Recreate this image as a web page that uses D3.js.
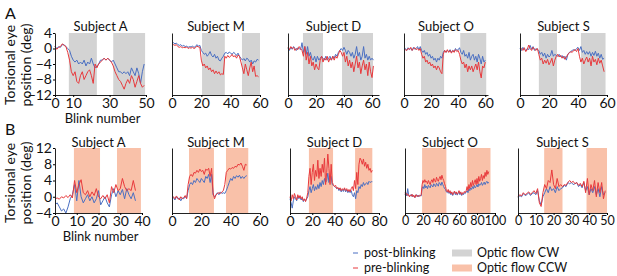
<!DOCTYPE html>
<html>
<head>
<meta charset="utf-8">
<script src="https://cdn.jsdelivr.net/npm/d3@7"></script>
<style>
  body { margin: 0; background: #fff; }
  text { font-family: Lato, "Open Sans", sans-serif; fill: #111; }
</style>
</head>
<body>
<div id="chart"></div>
<script>
// ---- data ----
const subjects = ["A", "M", "D", "O", "S"];

// row A : optic flow CW (torsional eye position, deg, per blink)
const cwPostA = [0.5,0,0.5,0.3,1,1,0.5,0,-0.5,-2,-3,-3.5,-3,-4,-3.5,-4,-3,-4.5,-3.5,-4,-2.5,-4,-5,-4.5,-4,-3,-3,-2.5,-3,-2.5,-3,-3.5,-3,-4,-5,-6,-6,-6.5,-6,-6.5,-6,-7,-5,-6,-7,-5,-6.5,-9,-6,-4];
const cwPreA  = [0.5,-0.2,0.3,0.5,1.2,0.8,0.5,-1,-3,-6,-7,-6,-8.5,-9,-7,-6,-8,-7,-6,-5.5,-7,-9,-4,-5,-4,-3.5,-3,-2.5,-3,-2.5,-3,-3.5,-4.5,-6,-7,-8,-8.5,-9.5,-10.5,-9,-8,-9,-7,-8,-10,-8.5,-7,-9,-10,-9.5];
const cwPostM = [1.8,1.5,1.2,1.4,1,0.8,1,0.6,0.8,0.5,0.6,0.3,0.5,0.4,0.6,0.3,0.5,1,0.6,0.8,-0.5,-1,-1.5,-1.2,-2,-1.5,-0.8,-1.8,-2.2,-1.5,-2.5,-2,-3,-3.2,-2.5,-2,-1.2,-1,-1.4,-0.9,-1.2,-1.5,-1,-1.3,-1.8,-1.2,-2,-2.5,-3,-2.6,-3.2,-2.5,-2.8,-3.5,-3,-4,-3.2,-3.5,-2.8,-3];
const cwPreM  = [1.2,1,0.8,1,0.5,0.3,0.5,0.2,0.3,0.2,0.4,0,0.2,0.1,0.3,0,0.2,0.6,0.4,0.3,-3,-4.5,-4,-5,-4.5,-5.5,-5,-6,-5.5,-6.5,-5.8,-6.5,-6,-6.8,-6.5,-6.7,-2,-2.5,-1.8,-2.3,-2,-1.5,-2.2,-1.8,-2.5,-1.7,-2,-3.5,-5,-6.5,-4,-5.5,-7,-5,-3.5,-6,-4.5,-7.2,-7,-7.3];
const cwPostD = [0,-0.5,0.3,-0.2,0.5,0,-0.5,0.2,0,-0.3,1.5,-1,0.5,-1.5,0.5,-2,-1,-2.5,-3,-2,-3.5,-2,-3,-2.5,-2,-2.5,-3,-2,-3,-2.5,-2,-3,-2,-2.5,-1.5,-2,-1,-0.5,0,-0.5,0.3,-0.5,-1.5,-0.5,-1,-2,-1,-2.5,-1.5,0.5,-2,-1,-3,-2,0.5,-2.5,-1.5,-3,-2,-3,-2.5,-3];
const cwPreD  = [0.3,-0.3,0.5,0,0.3,-0.5,0,-0.3,0.5,0,-0.5,-2,0.5,-3,-1,-4,-2,-4.5,-3.5,-5.5,-4,-5,-5.5,-3,-2,-3.5,-2.5,-3,-2,-3.5,-2.5,-3,-2,-3,-2,-2.5,-1.5,-0.5,-1,-2,-1,-3.5,-2,-4.5,-3,-5,-3.5,-6,-4,-2,-5,-3.5,-6.5,-4.5,-3,-5.5,-4,-7,-3.5,-6,-7.5,-4.5];
const cwPostO = [-0.2,0,-0.5,0.2,-0.3,0,-0.5,0.3,-0.2,0,0.5,-0.3,0.5,-0.5,-1,-0.5,-1.5,-1,-2,-1.5,-2.5,-2,-3,-2.5,-3.5,-2.5,-3,-2,-2.5,-1,-0.5,-1,-0.5,-0.8,-0.3,-1,-0.5,-0.8,0,-0.5,-0.3,0.2,-1,-1.5,-0.5,-2,-1.5,-2.5,-1,-3,-2,-1.5,-3,-2,-3.5,-1.5,-2.5,-4,-2,-3.5,-3];
const cwPreO  = [0,-0.3,-0.5,0,-0.2,0.3,-0.5,0,0.2,-0.3,0,-0.5,0,-1.5,-2.5,-2,-3.5,-3,-4,-3.5,-4.5,-4,-5,-4.5,-5.5,-4.5,-5,-6,-6.5,-1.5,-0.5,-1,-0.3,-1,-0.5,-1.2,-0.5,-1,-0.3,-0.8,-0.5,-1.5,-3,-4,-3.5,-5,-4,-6,-4.5,-5.5,-4.5,-6,-5,-4,-5.5,-3.5,-6,-7.6,-4.5,-5,-3.5];
const cwPostS = [0,-0.5,0.3,-0.3,-0.6,0,-0.3,0.8,-0.2,0.5,-0.5,0,-0.3,-0.5,-1.5,-1,-2,-1.2,-2.5,-1.5,-2.2,-1.8,-0.5,-2,-1.5,-1.8,-2,-1.5,-2.2,-1.8,-2.5,-2,-3,-1.5,-1,-0.8,-0.5,-0.3,-0.5,0,0.3,-0.5,0.5,-1,-0.5,-1.5,-0.8,-1.5,-0.8,-2,-1,-1.8,-0.7,-2,-1.2,-2.5,-1.5,-2.8,-2.5];
const cwPreS  = [-0.3,0,-0.5,0.2,-0.8,-0.3,0.9,0,-0.5,0.3,-0.2,-0.5,0,-1.5,-3,-2.5,-4,-3,-3.8,-2.8,-4.2,-3.5,-2.5,-4.5,-3,-2,-1.5,-2.2,-1.8,-2.5,-2,-2.8,-2.2,-1.5,-1.2,-0.8,-1,-0.5,-0.3,-0.8,0,-2,-3.5,-2.5,-4,-3,-2.2,-3.5,-2.5,-4.5,-2,-3.5,-2.8,-4.2,-2.5,-3.8,-3,-4.5,-6];

// row B : optic flow CCW
const ccwPostA = [-2,-1.5,-2.5,-3.5,-3,-4,-2.5,-0.5,0.5,3,-1,4,0,-1.5,-0.5,0.5,-1,0,-1.5,-0.5,1.5,-2,-1,0,-1.5,-2.5,0.5,2,0,1.5,0.5,1.8,-0.5,2,0.5,-0.5,1,-1];
const ccwPreA  = [-0.5,-0.3,-0.6,0,-0.3,0.3,-0.2,0.5,-0.3,4,1,3,4.2,1,0.5,1.5,0,1.2,0.3,2,0,-0.5,0.3,-0.5,0.5,-1.5,2.5,1,3,1.5,2,4.5,2.5,1.5,2,1.5,4,1.5];
const ccwPostM = [-0.5,-0.2,-0.8,0,-0.5,-0.3,-1,-0.3,-0.5,0,-0.3,1.5,3,3.5,3,4,3.5,4.5,4,3.5,4.5,4,3.5,5,4.5,5.5,3.5,5.5,0.5,0,0.5,1,0.5,1.2,0.8,1,0.8,1.5,2.5,3.5,4.5,4,5,4.5,5.2,4.8,5.3,4.5,5,4.5,5,5.2];
const ccwPreM  = [-0.3,0,-0.5,0.2,-0.3,-0.8,0,-0.5,-0.2,0.3,-0.5,3,5,5.5,5,6,5.8,6.5,6,6.8,6.2,6.5,5.5,6.8,6.5,7,5,7,1,-0.5,0.5,0.8,1,0.8,1.2,1.5,3,6,6.5,7,6.8,7.2,7,7.5,7.3,8,7.8,8.3,7.5,6.5,8,7.8];
const ccwPostD = [-0.5,-1.5,-2.8,-1,0,-0.5,-1,0.2,-0.5,0,-0.8,-0.3,-1.2,-0.6,-1,-0.5,0,1.5,2.5,1,2,3,1.5,2.5,1.8,3,2,3.5,2.5,4,3,4.5,3.5,4,5.8,3.5,4.5,5,3,2.8,2.5,2.3,2,2.2,1.5,2,1.2,1.8,1.3,2,1.2,1.7,1,1.5,1,1.5,0.5,0,1,-0.5,1.5,1,2.5,2,3,2.5,3.5,2.8,3.2,3.5,3,3.8,3.5,3.7,3.7];
const ccwPreD  = [0,-1,0.5,-0.5,0.8,0,-0.8,0.5,-0.3,0.3,-0.5,0,-1,-0.5,-1.2,-0.3,1,5,7,3,6,8,4,6.5,5,9,4.5,7,5,8,6,9.5,3,6,10.5,7,3,8,3.5,3,2.5,2.8,2,2.3,1.8,2.2,1.5,2,1.6,2.2,1.5,2,1.3,1.8,1.2,2,2.5,1.5,4,2,6,3,8,9.5,9,8,9.3,7.5,8.5,7,8,6.5,7,6,6.5];
const ccwPostO = [0.5,1,0.2,2,0.5,0,0.3,0.6,0,0.4,0.2,-0.2,0.3,0.5,0,0.4,0.1,0.3,0.2,2,2.5,2,3,2.2,2.6,2,2.8,2.5,2.2,3,2.7,2.4,3.2,2.8,2.5,3.3,3,2.6,3.5,3.2,2.8,3.6,3,2.5,2,1.8,1.2,1,1.5,0.8,1.2,0.5,1,0.3,0.8,1.2,0.5,1,0.4,0.8,1.2,0.5,1,0.3,0.8,0.5,1,0.8,1.2,1.5,1,2,1.5,2.2,1.8,2.5,2,2.8,2.2,2.5,3,2.4,3.2,2.8,3,3.5,2.8,3.2,3.6,3,3.5,3.8,3.3,3.6];
const ccwPreO  = [1,0.5,0.8,0.3,0.5,0,0.4,0.2,0.6,0,0.3,-0.2,0.5,0.1,0.3,0,0.4,0.2,0.5,3,4,3.5,4.2,3.6,3.8,3.2,4,3.5,3,3.8,4.2,3.5,4.5,4,3.6,4.8,4.2,3.8,4.5,5,4.2,5.3,4.5,4,3.2,2.5,1.5,1.2,1.8,1,1.5,0.8,1.2,0.5,1,1.4,0.8,1.2,0.6,1,1.5,0.8,1.2,0.5,1,0.8,1.3,1,1.5,2.5,1.5,3,2,3.5,2.5,4,2.8,3.5,4.2,3,4.5,3.2,5,3.8,4.5,5.5,4,5.2,4.5,6,5,6.5,5.5,6.2];
const ccwPostS = [-0.3,0.3,0,0.8,0.3,0.5,1,0.3,0.8,1,0.5,1.5,-1,-2,0,1,2,1,2.5,1.5,2,1,2.5,1.5,2,2.2,2.8,2.5,3.5,3.2,3.5,3,3.2,3.5,2.5,3,2.2,3.5,1.5,2.5,0.5,2,1,2.5,0.5,2,0,2.5,0.5,1];
const ccwPreS  = [0,0.5,0.2,1,0.5,0.8,1.2,0.6,1,1.5,0.8,2,-1.5,-2.4,1,3,2,4,3.5,6.6,3,2,4.5,2.5,3,2.5,3,2.8,3.5,4,3.5,3.8,3.2,3.5,2.8,3.3,2.5,3.8,1,4.5,0.5,3,1.5,4,0,3.5,1,3.5,-0.5,1.5];

// stimulus blocks (blink number start, end)
const cwBlocks  = [[[7.6,23],[32,49.5]], [[20.5,36],[47.7,60]], [[10.7,25],[38.6,60.7]], [[12.6,29.6],[41.5,60.7]], [[13,25.5],[42,59]]];
const ccwBlocks = [[[8.7,20.7],[28.5,39.5]], [[11.6,28.6],[36.8,52]], [[17,38.7],[58.5,74]], [[19,46],[69,95]], [[14.7,25],[38.5,50]]];

// axis extents and tick labels
const cwXMax  = [50, 60, 65, 62, 60];
const ccwXMax = [40, 60, 80, 100, 50];
const cwXTicks  = [[0,10,30,50], [0,20,40,60], [0,20,40,60], [0,20,40,60], [0,20,40,60]];
const ccwXTicks = [[0,10,20,30,40], [0,20,40,60], [0,20,40,60,80], [0,20,40,60,80,100], [0,10,20,30,40,50]];
const cwYTicks  = [4, 0, -4, -8, -12];
const ccwYTicks = [12, 8, 4, 0, -4];

// ---- layout ----
const W = 617, H = 276;
const colBlue = "#4a6fc2", colRed = "#e8393c";
const colCW = "#d3d3d3", colCCW = "#f9c1a9";

const svg = d3.select("#chart").append("svg")
    .attr("width", W)
    .attr("height", H);

const rows = [
    { letter: "A", letterY: 19, yDomain: [-12, 4], yRange: [95, 33], titleY: 31, labelY: 65,
      xRanges: [[55,146],[172,260],[288,379],[404,488],[520,607]],
      post: [cwPostA, cwPostM, cwPostD, cwPostO, cwPostS],
      pre: [cwPreA, cwPreM, cwPreD, cwPreO, cwPreS],
      blocks: cwBlocks, xMax: cwXMax, xTicks: cwXTicks, yTicks: cwYTicks, fill: colCW },
    { letter: "B", letterY: 135, yDomain: [-4, 12], yRange: [213, 148], titleY: 147, labelY: 183,
      xRanges: [[55,142],[172,260],[290,379],[405,495],[518,607]],
      post: [ccwPostA, ccwPostM, ccwPostD, ccwPostO, ccwPostS],
      pre: [ccwPreA, ccwPreM, ccwPreD, ccwPreO, ccwPreS],
      blocks: ccwBlocks, xMax: ccwXMax, xTicks: ccwXTicks, yTicks: ccwYTicks, fill: colCCW }
];

rows.forEach(row => {
    const y = d3.scaleLinear().domain(row.yDomain).range(row.yRange);

    // panel letter
    svg.append("text")
        .attr("x", 5).attr("y", row.letterY)
        .attr("font-size", 16)
        .text(row.letter);

    // y axis title (two lines, rotated)
    const yl = svg.append("text")
        .attr("transform", `translate(15,${row.labelY}) rotate(-90)`)
        .attr("text-anchor", "middle")
        .attr("font-size", 14);
    yl.append("tspan").attr("x", 0).attr("dy", 0).text("Torsional eye");
    yl.append("tspan").attr("x", 0).attr("dy", 16).text("position (deg)");

    subjects.forEach((s, i) => {
        const x = d3.scaleLinear().domain([0, row.xMax[i]]).range(row.xRanges[i]);
        const g = svg.append("g");

        // stimulus shading
        g.selectAll("rect.blk")
            .data(row.blocks[i])
            .join("rect")
            .attr("class", "blk")
            .attr("x", d => x(d[0]))
            .attr("width", d => x(d[1]) - x(d[0]))
            .attr("y", y.range()[1])
            .attr("height", y.range()[0] - y.range()[1])
            .attr("fill", row.fill);

        const line = d3.line()
            .x((d, k) => x(k))
            .y(d => y(d));

        g.append("path").datum(row.post[i])
            .attr("d", line).attr("fill", "none")
            .attr("stroke", colBlue).attr("stroke-width", 1);
        g.append("path").datum(row.pre[i])
            .attr("d", line).attr("fill", "none")
            .attr("stroke", colRed).attr("stroke-width", 1);

        // axes
        const tickFont = row.xTicks[i].length > 5 ? 12.5 : 14;  // crowded 0..100 axis
        const xAxis = d3.axisBottom(x).tickValues(row.xTicks[i])
            .tickSizeInner(2).tickSizeOuter(0).tickPadding(1);
        const gx = g.append("g")
            .attr("transform", `translate(0,${y.range()[0]})`)
            .call(xAxis);
        gx.selectAll("text").attr("font-size", tickFont).attr("font-family", "Lato, sans-serif");

        const yAxis = d3.axisLeft(y).tickValues(row.yTicks)
            .tickSizeInner(2).tickSizeOuter(0).tickPadding(1)
            .tickFormat(i === 0 ? d3.format("d") : () => "");
        const gy = g.append("g")
            .attr("transform", `translate(${x.range()[0]},0)`)
            .call(yAxis);
        gy.selectAll("text").attr("font-size", 14).attr("font-family", "Lato, sans-serif");
        if (i !== 0) gy.selectAll(".tick line").remove();

        g.selectAll(".domain").attr("stroke", "#222");

        // title
        g.append("text")
            .attr("x", (x.range()[0] + x.range()[1]) / 2)
            .attr("y", row.titleY)
            .attr("text-anchor", "middle")
            .attr("font-size", 13)
            .text("Subject " + s);

        if (i === 0) {
            g.append("text")
                .attr("x", (x.range()[0] + x.range()[1]) / 2 + 2)
                .attr("y", y.range()[0] + 28)
                .attr("text-anchor", "middle")
                .attr("font-size", 13)
                .text("Blink number");
        }
    });
});

// ---- legend ----
const legLines = [
    { label: "post-blinking", color: colBlue, y: 253 },
    { label: "pre-blinking", color: colRed, y: 268 }
];
const legBoxes = [
    { label: "Optic flow CW", color: colCW, y: 253 },
    { label: "Optic flow CCW", color: colCCW, y: 268 }
];
const leg = svg.append("g");
legLines.forEach(d => {
    leg.append("line").attr("x1", 353).attr("x2", 358)
        .attr("y1", d.y).attr("y2", d.y)
        .attr("stroke", d.color).attr("stroke-width", 1);
    leg.append("text").attr("x", 364).attr("y", d.y + 4)
        .attr("font-size", 12.5).text(d.label);
});
legBoxes.forEach(d => {
    leg.append("rect").attr("x", 452).attr("y", d.y - 3.5)
        .attr("width", 20).attr("height", 7).attr("fill", d.color);
    leg.append("text").attr("x", 477).attr("y", d.y + 4)
        .attr("font-size", 12.5).text(d.label);
});
</script>
</body>
</html>
